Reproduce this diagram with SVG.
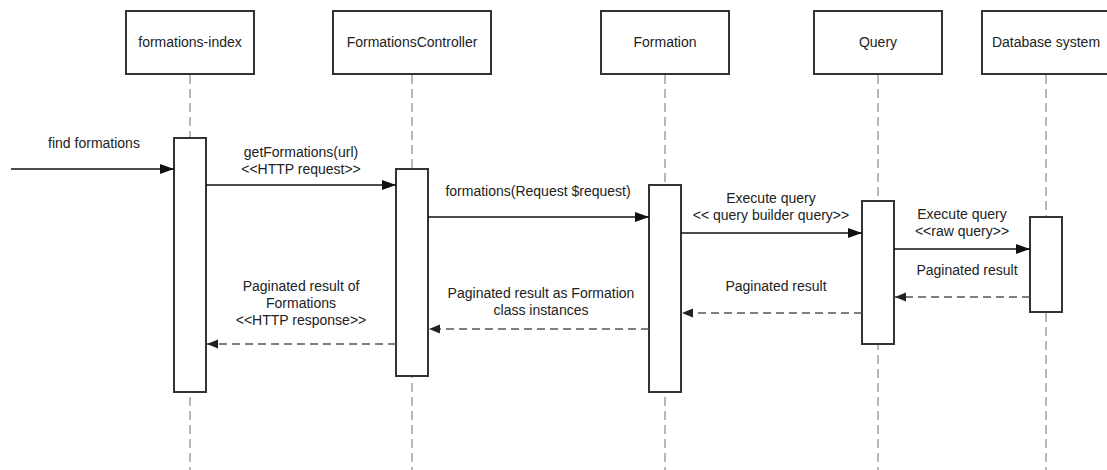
<svg xmlns="http://www.w3.org/2000/svg" width="1107" height="470" viewBox="0 0 1107 470">
  <style>
    .head { fill: #ffffff; stroke: #333333; stroke-width: 2; }
    .act { fill: #ffffff; stroke: #333333; stroke-width: 2; }
    .life { stroke: #888888; stroke-width: 1.2; stroke-dasharray: 9 5; fill: none; }
    .call { stroke: #111111; stroke-width: 1.6; fill: none; marker-end: url(#solidHead); }
    .ret { stroke: #555555; stroke-width: 1.4; stroke-dasharray: 8 5; fill: none; marker-end: url(#retHead); }
    text { font-family: "Liberation Sans", Arial, sans-serif; font-size: 14px; fill: #222222; text-anchor: middle; }
  </style>
  <defs>
    <marker id="solidHead" markerUnits="userSpaceOnUse" markerWidth="16" markerHeight="12" refX="14" refY="5" orient="auto">
      <path d="M0,0 L14,5 L0,10 Z" fill="#111111"/>
    </marker>
    <marker id="retHead" markerUnits="userSpaceOnUse" markerWidth="13" markerHeight="11" refX="11" refY="4.5" orient="auto">
      <path d="M0,0 L11,4.5 L0,9 Z" fill="#222222"/>
    </marker>
  </defs>

  <rect width="1107" height="470" fill="#ffffff"/>

  <!-- lifelines -->
  <g id="lifelines">
    <line class="life" x1="190" y1="75" x2="190" y2="470"/>
    <line class="life" x1="412" y1="75" x2="412" y2="470"/>
    <line class="life" x1="665" y1="75" x2="665" y2="470"/>
    <line class="life" x1="878" y1="75" x2="878" y2="470"/>
    <line class="life" x1="1046" y1="75" x2="1046" y2="470"/>
  </g>

  <!-- participants -->
  <g id="formations-index">
    <rect class="head" x="126" y="11" width="128" height="63"/>
    <text x="190" y="47">formations-index</text>
    <rect class="act" x="174" y="138" width="32" height="254"/>
  </g>
  <g id="formations-controller">
    <rect class="head" x="333" y="11" width="158" height="63"/>
    <text x="412" y="47">FormationsController</text>
    <rect class="act" x="396" y="169" width="32" height="207"/>
  </g>
  <g id="formation">
    <rect class="head" x="601" y="11" width="128" height="63"/>
    <text x="665" y="47">Formation</text>
    <rect class="act" x="649" y="185" width="32" height="207"/>
  </g>
  <g id="query">
    <rect class="head" x="814" y="11" width="128" height="63"/>
    <text x="878" y="47">Query</text>
    <rect class="act" x="862" y="201" width="32" height="143"/>
  </g>
  <g id="database-system">
    <rect class="head" x="982" y="11" width="128" height="63"/>
    <text x="1046" y="47">Database system</text>
    <rect class="act" x="1030" y="217" width="32" height="95"/>
  </g>

  <!-- messages -->
  <g id="connectors">
    <line class="call" x1="11" y1="169" x2="174" y2="169"/>
    <line class="call" x1="206" y1="185" x2="396" y2="185"/>
    <line class="call" x1="428" y1="217" x2="649" y2="217"/>
    <line class="call" x1="681" y1="233" x2="862" y2="233"/>
    <line class="call" x1="894" y1="249" x2="1030" y2="249"/>
    <line class="ret" x1="1030" y1="297" x2="895" y2="297"/>
    <line class="ret" x1="862" y1="313" x2="682" y2="313"/>
    <line class="ret" x1="649" y1="329" x2="429" y2="329"/>
    <line class="ret" x1="396" y1="344" x2="207" y2="344"/>
  </g>

  <!-- message labels -->
  <g id="labels">
    <text x="94" y="148">find formations</text>
    <text x="301" y="157">getFormations(url)</text>
    <text x="301" y="174">&lt;&lt;HTTP request&gt;&gt;</text>
    <text x="538" y="196">formations(Request $request)</text>
    <text x="771" y="203">Execute query</text>
    <text x="771" y="220">&lt;&lt; query builder query&gt;&gt;</text>
    <text x="962" y="219">Execute query</text>
    <text x="962" y="236">&lt;&lt;raw query&gt;&gt;</text>
    <text x="967" y="275">Paginated result</text>
    <text x="776" y="291">Paginated result</text>
    <text x="541" y="298">Paginated result as Formation</text>
    <text x="541" y="315">class instances</text>
    <text x="301" y="291">Paginated result of</text>
    <text x="301" y="308">Formations</text>
    <text x="301" y="325">&lt;&lt;HTTP response&gt;&gt;</text>
  </g>
</svg>
